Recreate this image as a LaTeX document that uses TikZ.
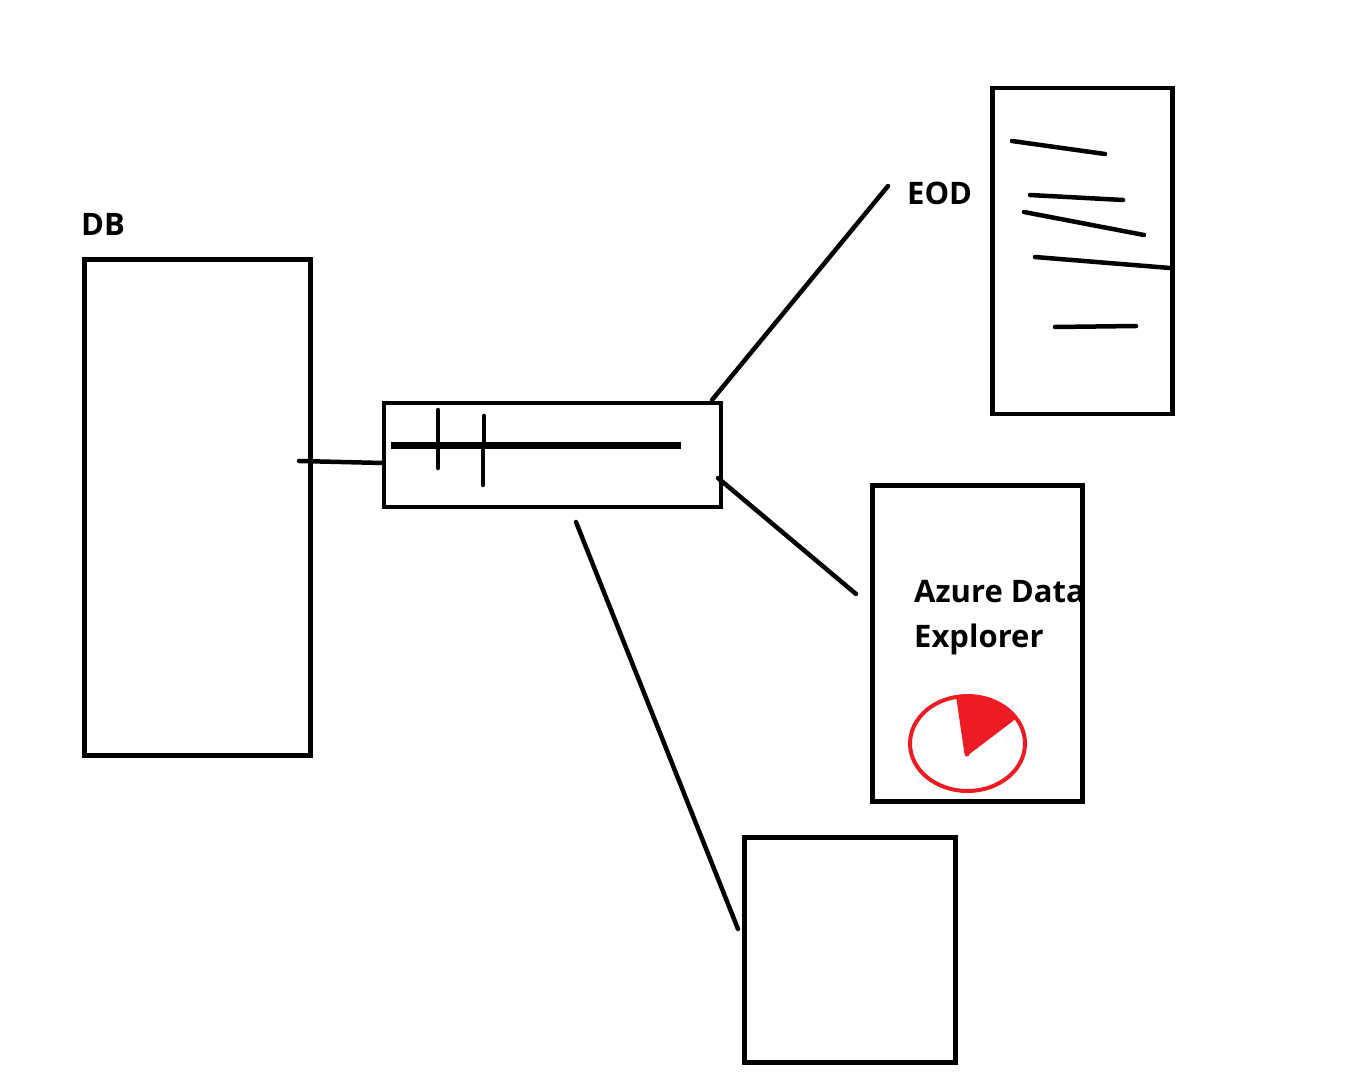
\documentclass[tikz,border=0pt]{standalone}
\usepackage{fontspec}
\setmainfont{Open Sans}
\usetikzlibrary{positioning}
\definecolor{gaugered}{RGB}{237,28,36}
\tikzset{
    sketchbox/.style={draw=black, line width=4.5pt, inner sep=0pt, fill=none},
    sketchline/.style={draw=black, line width=4.5pt, line cap=round},
    sketchlabel/.style={font=\fontsize{31}{45}\selectfont\bfseries, inner sep=0pt, align=left, anchor=north west}
}

\begin{document}
\begin{tikzpicture}[x=1pt, y=-1pt]
    \useasboundingbox (0, 0) rectangle (1352, 1081);

    % labels
    \node[sketchlabel] (dblabel) at (81, 213) {DB};
    \node[sketchlabel] (eodlabel) at (907, 182) {EOD};
    \node[sketchlabel] (adxlabel) at (914, 580) {Azure Data\\Explorer};

    % boxes
    \node[sketchbox, minimum width=226pt, minimum height=496pt] (db) at (197.5, 507.5) {};
    \node[sketchbox, minimum width=337pt, minimum height=104pt] (queue) at (552.5, 455) {};
    \node[sketchbox, minimum width=180pt, minimum height=326pt] (eod) at (1082.5, 251) {};
    \node[sketchbox, minimum width=210pt, minimum height=316pt] (adx) at (977.5, 643.5) {};
    \node[sketchbox, minimum width=211pt, minimum height=225pt] (other) at (850, 950) {};

    % connectors
    \coordinate (dbend) at (299, 461);
    \coordinate (queueleft) at (383, 463);
    \coordinate (queuetop) at (712, 400);
    \coordinate (eodend) at (888, 186);
    \coordinate (queueright) at (718, 478);
    \coordinate (adxend) at (856, 594);
    \coordinate (queuebottom) at (576, 522);
    \coordinate (otherend) at (738, 929);
    \draw[sketchline] (dbend) -- (queueleft);
    \draw[sketchline] (queuetop) -- (eodend);
    \draw[sketchline] (queueright) -- (adxend);
    \draw[sketchline] (queuebottom) -- (otherend);

    % queue marks
    \draw[sketchline, line width=7pt, line cap=butt] (391, 445.5) -- (681, 445.5);
    \draw[sketchline] (438, 410) -- (438, 468);
    \draw[sketchline] (484, 416) -- (484, 447);
    \draw[sketchline] (483, 450) -- (483, 485);

    % eod marks
    \draw[sketchline] (1012, 141) -- (1105, 154);
    \draw[sketchline] (1030, 195) -- (1123, 200);
    \draw[sketchline] (1024, 212) -- (1144, 235);
    \draw[sketchline] (1035, 257) -- (1170, 268);
    \draw[sketchline] (1055, 327) -- (1136, 326);

    % gauge
    \fill[gaugered] (964.5, 754) arc[start angle=180, end angle=0, radius=2.5] -- (1017, 718) .. controls (1003, 700) and (980, 692) .. (956, 696) -- cycle;
    \draw[gaugered, line width=4pt] (967.5, 743.5) ellipse [x radius=57.5, y radius=47.5];
\end{tikzpicture}
\end{document}
